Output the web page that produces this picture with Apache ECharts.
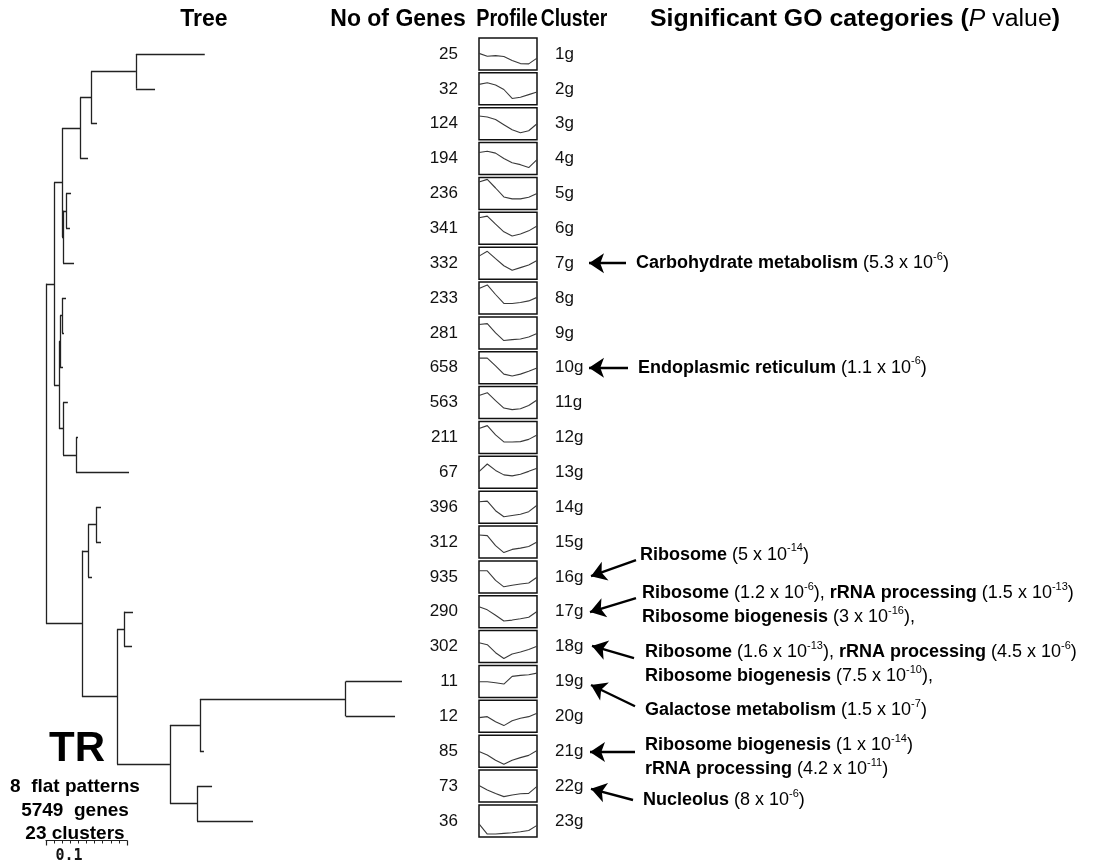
<!DOCTYPE html>
<html><head><meta charset="utf-8">
<script src="https://cdn.jsdelivr.net/npm/echarts@6/dist/echarts.min.js"></script>
<style>html,body{margin:0;padding:0;background:#fff}#c{width:1118px;height:863px}</style>
</head><body><div id="c"></div>
<script>
// ---------------- data ----------------
const clusterNames = ['1g','2g','3g','4g','5g','6g','7g','8g','9g','10g','11g','12g','13g','14g','15g','16g','17g','18g','19g','20g','21g','22g','23g'];
const geneCounts = [25,32,124,194,236,341,332,233,281,658,563,211,67,396,312,935,290,302,11,12,85,73,36];
// mean expression profiles (8 time points, arbitrary scale 0-10)
const profiles = [
  [5.2,4.3,4.5,4.2,3.0,2.0,1.9,3.7],
  [6.4,6.9,6.2,4.8,2.0,2.4,3.2,4.0],
  [7.4,7.1,6.3,4.7,3.1,2.2,2.8,5.0],
  [6.9,7.3,6.7,5.0,3.7,3.1,2.2,4.7],
  [8.6,9.4,6.7,3.9,3.3,3.3,3.8,5.0],
  [8.3,8.8,6.3,3.9,2.6,3.2,4.2,5.7],
  [7.2,8.7,6.4,4.2,2.8,3.6,4.4,5.8],
  [8.0,9.1,6.1,3.3,3.3,3.6,4.1,5.2],
  [7.6,7.9,5.0,2.6,2.9,3.1,3.7,4.8],
  [8.0,8.0,5.6,3.0,2.4,3.0,3.9,4.9],
  [7.2,8.1,5.6,3.3,2.8,3.1,4.1,5.8],
  [7.8,8.7,5.8,3.6,3.6,3.7,4.4,5.8],
  [5.2,7.6,5.6,4.2,3.9,4.4,5.3,6.3],
  [6.7,6.9,3.9,2.0,2.4,2.8,3.6,5.6],
  [7.2,7.0,3.9,1.7,2.7,3.1,3.6,5.0],
  [6.9,6.9,3.9,1.9,2.4,2.8,3.1,4.9],
  [6.6,5.6,3.9,2.1,2.4,2.8,3.3,5.1],
  [6.2,5.6,3.1,1.3,2.7,3.3,4.1,5.1],
  [4.9,4.9,4.6,4.2,6.6,6.9,7.1,7.6],
  [4.6,4.9,3.3,2.1,3.6,4.4,4.9,6.0],
  [4.9,3.8,2.2,0.9,2.2,3.0,3.7,5.2],
  [5.2,3.8,2.7,1.7,2.2,2.6,2.7,4.9],
  [4.1,0.9,0.9,1.1,1.3,1.6,2.0,3.6]
];
// dendrogram: d = distance from root, leaf = cluster number
const tree = {d:0, c:[
  {d:0.0099, c:[
    {d:0.0198, c:[
      {d:0.042, c:[
        {d:0.0556, c:[
          {d:0.111, c:[{leaf:1,d:0.196},{leaf:2,d:0.1346}]},
          {leaf:3,d:0.063}]},
        {leaf:4,d:0.0519}]},
      {d:0.021, c:[
        {d:0.0247, c:[{leaf:5,d:0.0309},{leaf:6,d:0.0296}]},
        {leaf:7,d:0.0346}]}]},
    {d:0.016, c:[
      {d:0.0173, c:[
        {d:0.0198, c:[{leaf:8,d:0.0247},{leaf:9,d:0.0222}]},
        {leaf:10,d:0.021}]},
      {d:0.021, c:[
        {leaf:11,d:0.027},
        {d:0.037, c:[{leaf:12,d:0.0395},{leaf:13,d:0.1025}]}]}]}]},
  {d:0.0444, c:[
    {d:0.0519, c:[
      {d:0.0617, c:[{leaf:14,d:0.0679},{leaf:15,d:0.0679}]},
      {leaf:16,d:0.0568}]},
    {d:0.0877, c:[
      {d:0.0963, c:[{leaf:17,d:0.1074},{leaf:18,d:0.1062}]},
      {d:0.153, c:[
        {d:0.190, c:[
          {d:0.370, c:[{leaf:19,d:0.4395},{leaf:20,d:0.4309}]},
          {leaf:21,d:0.195}]},
        {d:0.1864, c:[{leaf:22,d:0.205},{leaf:23,d:0.2556}]}]}]}]}]};
const scaleBar = 0.1;
const goClusters = [7,10,16,17,18,19,21,22];
const goTerms = [
  '{b|Carbohydrate metabolism}{n| (5.3 x 10}{s|-6}{n|)}',
  '{b|Endoplasmic reticulum}{n| (1.1 x 10}{s|-6}{n|)}',
  '{b|Ribosome}{n| (5 x 10}{s|-14}{n|)}',
  '{b|Ribosome}{n| (1.2 x 10}{s|-6}{n|), }{b|rRNA processing}{n| (1.5 x 10}{s|-13}{n|)}\n{b|Ribosome biogenesis}{n| (3 x 10}{s|-16}{n|),}',
  '{b|Ribosome}{n| (1.6 x 10}{s|-13}{n|), }{b|rRNA processing}{n| (4.5 x 10}{s|-6}{n|)}\n{b|Ribosome biogenesis}{n| (7.5 x 10}{s|-10}{n|),}',
  '{b|Galactose metabolism}{n| (1.5 x 10}{s|-7}{n|)}',
  '{b|Ribosome biogenesis}{n| (1 x 10}{s|-14}{n|)}\n{b|rRNA processing}{n| (4.2 x 10}{s|-11}{n|)}',
  '{b|Nucleolus}{n| (8 x 10}{s|-6}{n|)}'
];
const summaryTitle = 'TR';
const summaryLines = ['8  flat patterns','5749  genes','23 clusters'];
const headers = ['Tree','No of Genes','Profile','Cluster'];

// ---------------- layout (pixels) ----------------
const FONT = '"Liberation Sans", Arial, Helvetica, sans-serif';
const ROW0 = 54, STEP = 34.86;          // centre of row 1, row pitch
const TREE_LEFT = 46, TREE_PX_PER_UNIT = 810, TREE_MAX = 0.5;
const BOX_LEFT = 479, BOX_W = 58, BOX_H = 32;
// annotation placement: [textX, textRow, tailX, tailRow, headX, headRow]
const annoLayout = [
  [636, 7.0, 626, 7.0, 589, 7.0],
  [638, 10.0, 628, 10.0, 589, 10.0],
  [640, 15.37, 636, 15.52, 591, 15.98],
  [642, 16.81, 636, 16.61, 590, 17.01],
  [645, 18.50, 634, 18.33, 592, 17.98],
  [645, 19.82, 635, 19.71, 591, 19.10],
  [645, 21.17, 635, 21.02, 590, 21.02],
  [643, 22.40, 633, 22.40, 591, 22.08]
];
// header placement: [x, horizontal squeeze]
const headerLayout = [[204,1.0],[398,1.0],[507,0.86],[574,0.84]];

// ---------------- build tree segments ----------------
function place(n){ if(n.leaf){ n.y=n.leaf; return; } n.c.forEach(place); n.y=(n.c[0].y+n.c[n.c.length-1].y)/2; }
place(tree);
const segs=[];
function walk(n){ if(!n.c) return;
  segs.push({coords:[[n.d,n.c[0].y],[n.d,n.c[n.c.length-1].y]]});
  n.c.forEach(ch=>{ segs.push({coords:[[n.d,ch.y],[ch.d,ch.y]]}); walk(ch); });
}
walk(tree);

const grids=[], xAxes=[], yAxes=[], series=[];
// grid 0: tree
grids.push({left:TREE_LEFT, top:ROW0-STEP, width:TREE_MAX*TREE_PX_PER_UNIT, height:STEP*24});
xAxes.push({gridIndex:0, type:'value', min:0, max:TREE_MAX, show:false});
yAxes.push({gridIndex:0, type:'value', min:0, max:24, inverse:true, show:false});
series.push({type:'lines', coordinateSystem:'cartesian2d', xAxisIndex:0, yAxisIndex:0, polyline:false,
  silent:true, lineStyle:{color:'#222', width:1.3, opacity:1}, data:segs});
// grid 1: scale bar
grids.push({left:TREE_LEFT, top:838, width:scaleBar*TREE_PX_PER_UNIT, height:10});
xAxes.push({gridIndex:1, type:'value', min:0, max:scaleBar, interval:scaleBar, position:'bottom',
  axisLine:{show:true, onZero:false, lineStyle:{color:'#222', width:1.2}},
  axisTick:{show:true, length:5, lineStyle:{color:'#222', width:1.2}},
  minorTick:{show:true, splitNumber:10, length:3, lineStyle:{color:'#222', width:1}},
  axisLabel:{show:false}, splitLine:{show:false},
  name:String(scaleBar), nameLocation:'middle', nameGap:8,
  nameTextStyle:{fontFamily:'"DejaVu Sans Mono", monospace', fontWeight:'bold', fontSize:15, color:'#111', padding:[0,35,0,0]}});
yAxes.push({gridIndex:1, type:'value', min:0, max:1, show:false});
series.push({type:'line', xAxisIndex:1, yAxisIndex:1, data:[], silent:true});
// grid 2: row labels (gene counts / cluster names)
grids.push({left:BOX_LEFT, top:ROW0-STEP/2, width:BOX_W, height:STEP*23});
xAxes.push({gridIndex:2, type:'value', min:0, max:1, show:false});
yAxes.push({gridIndex:2, type:'category', data:geneCounts.map(String), inverse:true, position:'left',
  axisLine:{show:false}, axisTick:{show:false}, splitLine:{show:false},
  axisLabel:{margin:21, fontSize:17, color:'#111', fontFamily:FONT}});
yAxes.push({gridIndex:2, type:'category', data:clusterNames, inverse:true, position:'right',
  axisLine:{show:false}, axisTick:{show:false}, splitLine:{show:false},
  axisLabel:{margin:18, fontSize:17, color:'#111', fontFamily:FONT, align:'left'}});
series.push({type:'scatter', xAxisIndex:2, yAxisIndex:2, data:[], silent:true});
series.push({type:'scatter', xAxisIndex:2, yAxisIndex:3, data:[], silent:true});
// grid 3: annotations
grids.push({left:0, top:ROW0-STEP, width:1118, height:STEP*24});
xAxes.push({gridIndex:3, type:'value', min:0, max:1118, show:false});
yAxes.push({gridIndex:3, type:'value', min:0, max:24, inverse:true, show:false});
const ax = 3, ay = 4;
series.push({type:'lines', coordinateSystem:'cartesian2d', xAxisIndex:ax, yAxisIndex:ay, polyline:false, silent:true,
  symbol:['none','arrow'], symbolSize:15,
  lineStyle:{color:'#000', width:2.4, opacity:1},
  data:annoLayout.map(a=>({coords:[[a[2],a[3]],[a[4],a[5]]]}))});
series.push({type:'scatter', xAxisIndex:ax, yAxisIndex:ay, symbolSize:0, silent:true,
  itemStyle:{opacity:1},
  data:annoLayout.map((a,i)=>[a[0],a[1],i]),
  label:{show:true, position:'right', distance:0, color:'#000', fontFamily:FONT, lineHeight:24,
    formatter:p=>goTerms[p.data[2]],
    rich:{
      b:{fontWeight:'bold', fontSize:18, fontFamily:FONT, color:'#000', lineHeight:24},
      n:{fontSize:18, fontFamily:FONT, color:'#000', lineHeight:24},
      s:{fontSize:11, fontFamily:FONT, color:'#000', lineHeight:15, verticalAlign:'top'}
    }}});
// profile grids
profiles.forEach((p,i)=>{
  const g = grids.length;
  grids.push({left:BOX_LEFT, top:ROW0+STEP*i-BOX_H/2, width:BOX_W, height:BOX_H, show:true,
    borderColor:'#111', borderWidth:1.5, backgroundColor:'transparent'});
  xAxes.push({gridIndex:g, type:'category', boundaryGap:false, data:p.map((_,k)=>k), show:false});
  yAxes.push({gridIndex:g, type:'value', min:0, max:10, show:false});
  series.push({type:'line', xAxisIndex:xAxes.length-1, yAxisIndex:yAxes.length-1, data:p,
    symbol:'none', silent:true, lineStyle:{color:'#3a3a3a', width:1.1}});
});

const hdr = (t,L)=>({type:'text', x:L[0], y:20, scaleX:L[1], silent:true,
  style:{text:t, font:'bold 23px '+FONT, fill:'#000', align:'center', verticalAlign:'middle'}});
const graphic = headers.map((t,i)=>hdr(t,headerLayout[i])).concat([
  {type:'text', x:650, y:20, scaleX:1.08, silent:true, style:{
    text:'{b|Significant GO categories (}{i|P}{n| value}{b|)}', align:'left', verticalAlign:'middle',
    rich:{b:{font:'bold 23px '+FONT, fill:'#000'}, i:{font:'italic 23px '+FONT, fill:'#000'}, n:{font:'23px '+FONT, fill:'#000'}}}},
  {type:'text', x:77, y:749, silent:true, style:{text:summaryTitle, font:'bold 42px '+FONT, fill:'#000', align:'center', verticalAlign:'middle'}}
]).concat(summaryLines.map((t,i)=>({type:'text', x:75, y:787+23.5*i, silent:true,
  style:{text:t, font:'bold 19px '+FONT, fill:'#000', align:'center', verticalAlign:'middle'}})));

const chart = echarts.init(document.getElementById('c'), null, {renderer:'canvas'});
chart.setOption({animation:false, backgroundColor:'#fff', grid:grids, xAxis:xAxes, yAxis:yAxes, series:series, graphic:graphic});
</script></body></html>
